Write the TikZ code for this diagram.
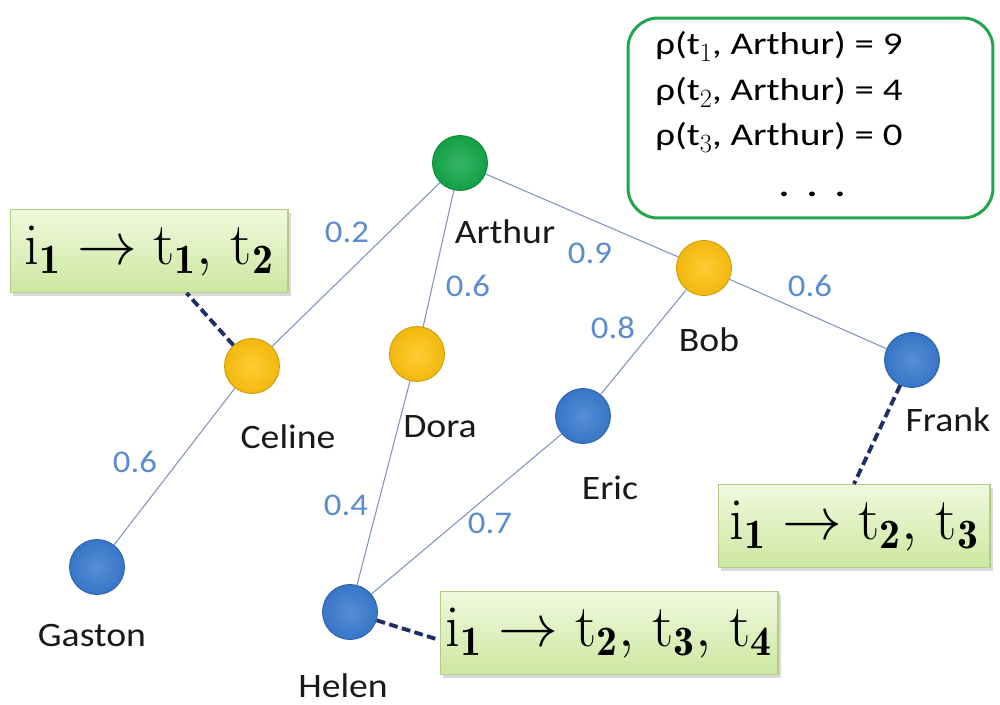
\RequirePackage{fix-cm}
\documentclass[tikz,border=0pt]{standalone}
\usepackage{fontspec}
\usepackage{amsmath}
\setsansfont[FakeStretch=1.1]{Carlito}
\newfontfamily\rhofont[FakeStretch=1.23]{Carlito}
\usetikzlibrary{shadows}

\definecolor{edgeblue}{HTML}{7F93BD}
\definecolor{wtblue}{HTML}{5B8CD0}
\definecolor{dashnavy}{HTML}{1F2F66}
\definecolor{nodegreen}{HTML}{14A84A}
\definecolor{nodeyellow}{HTML}{FFC20E}
\definecolor{nodeblue}{HTML}{3A7BD0}
\definecolor{boxtop}{HTML}{F0F9DE}
\definecolor{boxbot}{HTML}{CDE7A0}
\definecolor{boxline}{HTML}{B3CD88}
\definecolor{framegreen}{HTML}{22A64C}

% subscripted names
\newcommand{\itm}[1]{\mathrm{#1}_{\mathbf{1}}}
\newcommand{\tg}[1]{\mathrm{t}_{\mathbf{#1}}}
\newcommand{\rt}[1]{t\raisebox{-4pt}{\fontsize{15}{15}\selectfont$\mathrm{#1}$}}

\begin{document}
\begin{tikzpicture}
  [x=0.02cm,y=-0.02cm,
   person/.style={shape=circle,minimum size=1.1cm,inner sep=0pt,
     draw=#1!80!black,line width=0.5pt,
     inner color=#1!85!white,outer color=#1!95!black},
   pname/.style={font=\fontsize{19.5}{22}\sffamily,text=black!90},
   weight/.style={font=\fontsize{18}{21}\sffamily,text=wtblue},
   link/.style={draw=edgeblue,line width=0.6pt},
   tie/.style={draw=dashnavy,line width=2.2pt,dash pattern=on 5pt off 2.5pt},
   itembox/.style={draw=boxline,line width=0.6pt,top color=boxtop,
     bottom color=boxbot,minimum height=1.66cm,inner sep=0pt,
     drop shadow={opacity=0.3,shadow xshift=0.06cm,shadow yshift=-0.06cm},
     font=\fontsize{34}{40}\selectfont},
   rholine/.style={font=\fontsize{18}{22}\rhofont,anchor=base west,inner sep=0pt}]
\useasboundingbox (0,0) rectangle (1000,704);

% the people
\node[person=nodegreen]  (arthur) at (460,163) {};
\node[person=nodeyellow] (bob)    at (704,268) {};
\node[person=nodeyellow] (celine) at (252,366) {};
\node[person=nodeyellow] (dora)   at (417,354) {};
\node[person=nodeblue]   (eric)   at (583,416) {};
\node[person=nodeblue]   (frank)  at (912,360) {};
\node[person=nodeblue]   (gaston) at (97,567)  {};
\node[person=nodeblue]   (helen)  at (350,612) {};

\node[pname] (arthur-n) at (505,232) {Arthur};
\node[pname] (bob-n)    at (709,340) {Bob};
\node[pname] (celine-n) at (288,437) {Celine};
\node[pname] (dora-n)   at (440,427) {Dora};
\node[pname] (eric-n)   at (610,488) {Eric};
\node[pname] (frank-n)  at (948,420) {Frank};
\node[pname] (gaston-n) at (92,635)  {Gaston};
\node[pname] (helen-n)  at (343,686) {Helen};

% weighted links
\draw[link] (arthur) -- (celine) (arthur) -- (dora) (arthur) -- (bob)
            (bob) -- (eric) (bob) -- (frank) (celine) -- (gaston)
            (dora) -- (helen) (eric) -- (helen);

\node[weight] (w-ac) at (347,232) {0.2};
\node[weight] (w-ad) at (468,286) {0.6};
\node[weight] (w-ab) at (590,253) {0.9};
\node[weight] (w-bf) at (810,286) {0.6};
\node[weight] (w-be) at (613,328) {0.8};
\node[weight] (w-cg) at (135,462) {0.6};
\node[weight] (w-dh) at (346,505) {0.4};
\node[weight] (w-eh) at (490,523) {0.7};

% item boxes
\node[itembox,minimum width=5.56cm] (celinebox) at (149,251)
  {$\itm{i} \rightarrow \tg{1}{,}\ \tg{2}$};
\node[itembox,minimum width=5.44cm] (frankbox) at (854,526)
  {$\itm{i} \rightarrow \tg{2}{,}\ \tg{3}$};
\node[itembox,minimum width=6.76cm] (helenbox) at (609,633)
  {$\itm{i} \rightarrow \tg{2}{,}\ \tg{3}{,}\ \tg{4}$};

\draw[tie] (celine) -- (celinebox);
\draw[tie] (frank) -- (frankbox.north);
\draw[tie] (helen) -- ([yshift=-4pt]helenbox.west);

% scores
\node[draw=framegreen,line width=1.7pt,rounded corners=0.6cm,fill=white,
      minimum width=7.3cm,minimum height=4cm] (rhobox) at (810.5,118) {};
\node[rholine] (rho1) at (655,54)  {ρ(\rt{1}, Arthur) = 9};
\node[rholine] (rho2) at (655,100) {ρ(\rt{2}, Arthur) = 4};
\node[rholine] (rho3) at (655,145) {ρ(\rt{3}, Arthur) = 0};
\node[rholine,anchor=base] (rhodots) at (812,196) {\textbf{.\ \ .\ \ .}};
\end{tikzpicture}
\end{document}
